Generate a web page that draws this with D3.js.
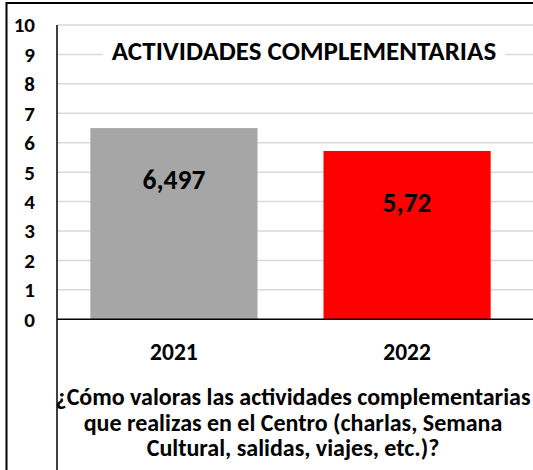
<!DOCTYPE html>
<html>
<head>
<meta charset="utf-8">
<script src="https://cdn.jsdelivr.net/npm/d3@7"></script>
<style>
  body { margin: 0; background: #fff; }
  svg { display: block; font-family: Carlito, Calibri, Lato, sans-serif; font-weight: bold; }
</style>
</head>
<body>
<div id="chart"></div>
<script>
const categories = ['2021', '2022']
const values = [6.497, 5.72]
const valueLabels = ['6,497', '5,72']
const barColors = ['#a6a6a6', '#ff0000']
const yTicks = [0, 1, 2, 3, 4, 5, 6, 7, 8, 9, 10]
const chartTitle = 'ACTIVIDADES COMPLEMENTARIAS'
const questionLines = [
  '¿Cómo valoras las actividades complementarias',
  'que realizas en el Centro (charlas, Semana',
  'Cultural, salidas, viajes, etc.)?'
]

const width = 533
const height = 470
const plot = { left: 57, right: 524, top: 25, bottom: 319.3 }

const svg = d3.select('#chart')
  .append('svg')
  .attr('width', width)
  .attr('height', height)

const xScale = d3.scaleBand()
  .domain(categories)
  .range([plot.left, plot.right])
  .paddingInner(0.283)
  .paddingOuter(0.143)

const yScale = d3.scaleLinear()
  .domain([0, 10])
  .range([plot.bottom, plot.top])

// outer frame (top + left only)
svg.append('line')
  .attr('x1', 6).attr('x2', width).attr('y1', 3).attr('y2', 3)
  .attr('stroke', '#000').attr('stroke-width', 2)
svg.append('line')
  .attr('x1', 6.5).attr('x2', 6.5).attr('y1', 2).attr('y2', height)
  .attr('stroke', '#000').attr('stroke-width', 2)

// gridlines
svg.append('g')
  .selectAll('line')
  .data(yTicks.filter(d => d > 0))
  .enter()
  .append('line')
  .attr('x1', plot.left)
  .attr('x2', width)
  .attr('y1', d => yScale(d))
  .attr('y2', d => yScale(d))
  .attr('stroke', '#d9d9d9')
  .attr('stroke-width', 1.5)

// y tick labels
svg.append('g')
  .selectAll('text')
  .data(yTicks)
  .enter()
  .append('text')
  .attr('x', 35)
  .attr('y', d => yScale(d))
  .attr('dy', '0.35em')
  .attr('text-anchor', 'end')
  .attr('font-size', 21)
  .attr('fill', '#000')
  .text(d => d)

// bars
svg.append('g')
  .selectAll('rect')
  .data(values)
  .enter()
  .append('rect')
  .attr('x', (d, i) => xScale(categories[i]))
  .attr('width', xScale.bandwidth())
  .attr('y', d => yScale(d))
  .attr('height', d => yScale(0) - yScale(d))
  .attr('fill', (d, i) => barColors[i])

// value labels
svg.append('g')
  .selectAll('text')
  .data(values)
  .enter()
  .append('text')
  .attr('x', (d, i) => xScale(categories[i]) + xScale.bandwidth() / 2)
  .attr('y', d => yScale(d) + 51)
  .attr('dy', '0.35em')
  .attr('text-anchor', 'middle')
  .attr('font-size', 27.5)
  .attr('fill', '#000')
  .text((d, i) => valueLabels[i])

// axes lines
svg.append('line')
  .attr('x1', plot.left).attr('x2', width)
  .attr('y1', yScale(0)).attr('y2', yScale(0))
  .attr('stroke', '#000').attr('stroke-width', 1.5)
svg.append('line')
  .attr('x1', plot.left).attr('x2', plot.left)
  .attr('y1', yScale(10)).attr('y2', height)
  .attr('stroke', '#000').attr('stroke-width', 1.5)

// category labels
svg.append('g')
  .selectAll('text')
  .data(categories)
  .enter()
  .append('text')
  .attr('x', d => xScale(d) + xScale.bandwidth() / 2)
  .attr('y', 352)
  .attr('dy', '0.35em')
  .attr('text-anchor', 'middle')
  .attr('font-size', 23.5)
  .attr('fill', '#000')
  .text(d => d)

// chart title with white backing box
svg.append('rect')
  .attr('x', 103).attr('y', 37).attr('width', 402).attr('height', 28)
  .attr('fill', '#fff')
svg.append('text')
  .attr('x', 304)
  .attr('y', 51)
  .attr('dy', '0.35em')
  .attr('text-anchor', 'middle')
  .attr('font-size', 27)
  .attr('fill', '#000')
  .text(chartTitle)

// question text below
svg.append('g')
  .selectAll('text')
  .data(questionLines)
  .enter()
  .append('text')
  .attr('x', 293)
  .attr('y', (d, i) => 397 + i * 25.5)
  .attr('dy', '0.35em')
  .attr('text-anchor', 'middle')
  .attr('font-size', 24)
  .attr('fill', '#000')
  .text(d => d)
</script>
</body>
</html>
